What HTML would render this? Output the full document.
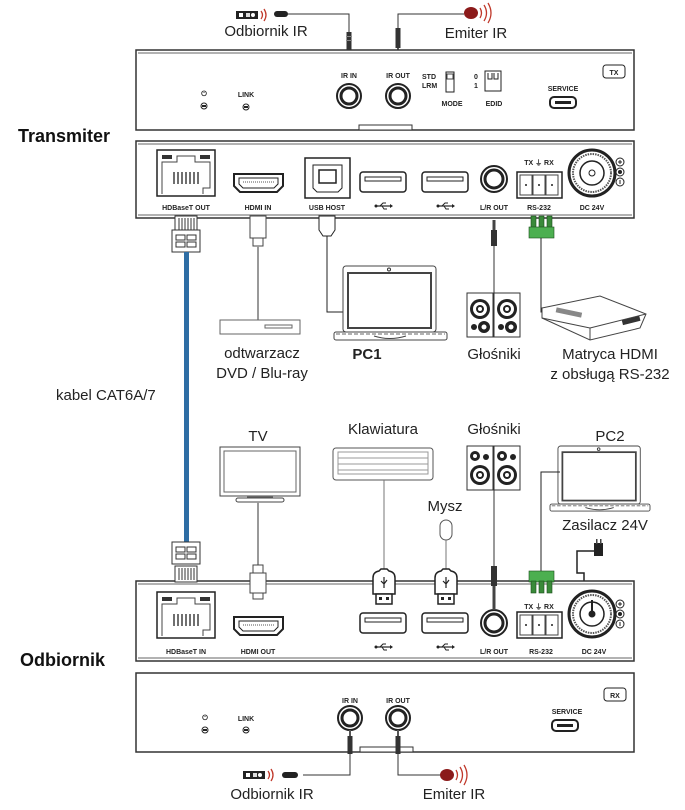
<!DOCTYPE html>
<html><head><meta charset="utf-8"><style>
html,body{margin:0;padding:0;background:#fff;}
svg{display:block;font-family:"Liberation Sans",Arial,sans-serif;}
.s{font-size:7px;font-weight:bold;fill:#222;}
.l{font-size:15px;fill:#222;}
</style></head><body>
<svg width="685" height="810" viewBox="0 0 685 810" xmlns="http://www.w3.org/2000/svg">
<defs>
<g id="usba"><rect x="0" y="0" width="46" height="20" rx="3" fill="#fff" stroke="#222" stroke-width="1.5"/><rect x="5" y="5" width="36" height="4" fill="#fff" stroke="#222"/></g>
<g id="usbsym"><line x1="0" y1="0" x2="14" y2="0" stroke="#222" stroke-width="1.2"/><polygon points="14,-2 17,0 14,2" fill="#222"/><circle cx="0" cy="0" r="1.5" fill="#222"/><path d="M4,0 L7,-3 L10,-3 M6,0 L8,3 L11,3" fill="none" stroke="#222"/></g>
<g id="rj"><rect x="0" y="0" width="58" height="46" fill="#fff" stroke="#222" stroke-width="1.5"/><path d="M5,44 V12 H20 V6 H38 V12 H53 V38 H46 V44" fill="none" stroke="#444"/><rect x="5" y="5" width="10" height="4" fill="#333"/><rect x="43" y="5" width="10" height="4" fill="#333"/><g stroke="#222" stroke-width="1.3"><line x1="17" y1="22" x2="17" y2="34"/><line x1="21" y1="22" x2="21" y2="34"/><line x1="25" y1="22" x2="25" y2="34"/><line x1="29" y1="22" x2="29" y2="34"/><line x1="33" y1="22" x2="33" y2="34"/><line x1="37" y1="22" x2="37" y2="34"/><line x1="41" y1="22" x2="41" y2="34"/></g></g>
<g id="hdmi"><path d="M2,2 H51 V14 L45,20 H8 L2,14 Z" fill="#fff" stroke="#222" stroke-width="2"/><path d="M7,6 H46 V12 L42,16 H11 L7,12 Z" fill="none" stroke="#222"/><line x1="11" y1="10" x2="42" y2="10" stroke="#555" stroke-dasharray="1,1"/></g>
<g id="jack"><circle r="13" fill="#fff" stroke="#222" stroke-width="2"/><circle r="9" fill="#fff" stroke="#222" stroke-width="3"/></g>
<g id="dc"><circle r="23" fill="#fff" stroke="#222" stroke-width="3"/><circle r="19" fill="none" stroke="#555" stroke-width="2" stroke-dasharray="1.5,1"/><circle r="12" fill="#fff" stroke="#222" stroke-width="1.5"/><circle r="3" fill="none" stroke="#222"/></g>
<g id="pm"><circle cx="0" cy="-10" r="4" fill="#fff" stroke="#222"/><path d="M-2,-10h4M0,-12v4" stroke="#222"/><circle cx="0" cy="0" r="4" fill="#fff" stroke="#222"/><circle cx="0" cy="0" r="2" fill="#222"/><circle cx="0" cy="10" r="4" fill="#fff" stroke="#222"/><path d="M0,8v4" stroke="#222"/></g>
<g id="rs"><rect x="0" y="0" width="45" height="26" fill="#fff" stroke="#222" stroke-width="1.5"/><rect x="3" y="3" width="12" height="20" fill="#fff" stroke="#444"/><rect x="16" y="3" width="12" height="20" fill="#fff" stroke="#444"/><rect x="29" y="3" width="12" height="20" fill="#fff" stroke="#444"/><circle cx="9" cy="13" r="1" fill="#222"/><circle cx="22" cy="13" r="1" fill="#222"/><circle cx="35" cy="13" r="1" fill="#222"/></g>
<g id="green"><rect x="0" y="0" width="5" height="12" fill="#3a8a3a" stroke="#1b4d1b" stroke-width=".6"/><rect x="8" y="0" width="5" height="12" fill="#3a8a3a" stroke="#1b4d1b" stroke-width=".6"/><rect x="16" y="0" width="5" height="12" fill="#3a8a3a" stroke="#1b4d1b" stroke-width=".6"/><rect x="-2" y="11" width="25" height="11" fill="#4caf50" stroke="#1b4d1b" stroke-width=".6"/></g>
<g id="irjack"><circle r="12" fill="#fff" stroke="#222" stroke-width="2"/><circle r="8" fill="#fff" stroke="#222" stroke-width="3"/></g>
<g id="plug"><rect x="-2.5" y="0" width="5" height="18" fill="#333"/><rect x="-1" y="18" width="2" height="10" fill="#555"/><rect x="-3" y="4" width="6" height="1" fill="#888"/><rect x="-3" y="8" width="6" height="1" fill="#888"/></g>
<g id="irrecv"><rect x="0" y="0" width="22" height="8" fill="#222"/><rect x="3" y="2" width="4" height="4" fill="#fff"/><rect x="10" y="2" width="4" height="4" fill="#ddd"/><circle cx="17" cy="4" r="2" fill="#fff"/><path d="M25,0 q3,4 0,8 M28,-2 q4,6 0,12" fill="none" stroke="#c0392b" stroke-width="1.3"/></g>
<g id="ethplug"><rect x="0" y="0" width="28" height="22" fill="#fff" stroke="#333"/><rect x="4" y="5" width="9" height="5" fill="none" stroke="#333"/><rect x="15" y="5" width="9" height="5" fill="none" stroke="#333"/><rect x="4" y="12" width="9" height="5" fill="none" stroke="#333"/><rect x="15" y="12" width="9" height="5" fill="none" stroke="#333"/></g>
<g id="rjpins"><rect x="0" y="0" width="22" height="16" fill="#fff" stroke="#333"/><g stroke="#333"><line x1="4" y1="2" x2="4" y2="14"/><line x1="7" y1="2" x2="7" y2="14"/><line x1="10" y1="2" x2="10" y2="14"/><line x1="13" y1="2" x2="13" y2="14"/><line x1="16" y1="2" x2="16" y2="14"/><line x1="19" y1="2" x2="19" y2="14"/></g></g>
<g id="usbplug"><path d="M-11,22 V6 Q-11,0 -5,-1 L-3,-3 L3,-3 L5,-1 Q11,0 11,6 V22 Z" fill="#fff" stroke="#222" stroke-width="1.5"/><rect x="-8" y="22" width="16" height="10" fill="#fff" stroke="#222" stroke-width="1.5"/><rect x="-5" y="25" width="3" height="3" fill="#222"/><rect x="2" y="25" width="3" height="3" fill="#222"/><path d="M0,5 V16 M-3,9 L0,12 L3,8" fill="none" stroke="#222" stroke-width="1.2"/></g>
<g id="spk"><rect x="0" y="0" width="26" height="44" fill="#fff" stroke="#333"/><circle cx="13" cy="16" r="10" fill="#222"/><circle cx="13" cy="16" r="7" fill="#fff"/><circle cx="13" cy="16" r="4" fill="#222"/><circle cx="13" cy="16" r="2" fill="#fff"/><circle cx="7" cy="34" r="3" fill="#222"/><circle cx="17" cy="34" r="6" fill="#222"/><circle cx="17" cy="34" r="2.5" fill="#fff"/></g>
<g id="laptop"><rect x="9" y="0" width="93" height="66" rx="3" fill="#fff" stroke="#444"/><rect x="14" y="7" width="83" height="55" fill="#fff" stroke="#444" stroke-width="2"/><circle cx="55" cy="3.5" r="1.5" fill="none" stroke="#333"/><rect x="0" y="66" width="113" height="8" rx="2" fill="#fff" stroke="#444"/><line x1="2" y1="68" x2="111" y2="68" stroke="#666" stroke-dasharray="4,2"/><path d="M40,70 Q56,75 72,70" fill="none" stroke="#444"/></g>
</defs>

<!-- Top IR cables TX -->
<use href="#irrecv" x="236" y="11"/>
<rect x="274" y="11" width="14" height="6" rx="3" fill="#222"/>
<path d="M288,14 H349 V35" fill="none" stroke="#333" stroke-width="1"/>
<use href="#plug" x="349" y="32"/>
<ellipse cx="471" cy="13" rx="7" ry="6" fill="#8b1a1a"/>
<path d="M480,8 q3,5 0,10 M484,5 q5,8 0,16 M488,3 q6,10 0,20" fill="none" stroke="#c0392b" stroke-width="1.3"/>
<path d="M464,14 H398 V33" fill="none" stroke="#333"/>
<rect x="395.5" y="28" width="5" height="20" fill="#333"/><rect x="397" y="48" width="2" height="8" fill="#555"/>
<text x="266" y="36" class="l" text-anchor="middle" font-size="14">Odbiornik IR</text>
<text x="476" y="38" class="l" text-anchor="middle" font-size="14">Emiter IR</text>

<!-- TX front panel -->
<rect x="136" y="50" width="498" height="80" fill="#fff" stroke="#333" stroke-width="1.5"/>
<line x1="138" y1="53" x2="632" y2="53" stroke="#666"/>
<rect x="359" y="125" width="53" height="5" fill="#fff" stroke="#333"/>
<text x="204" y="96" class="s" text-anchor="middle" font-size="9">⏻</text>
<circle cx="204" cy="106" r="3" fill="#fff" stroke="#222"/><rect x="202" y="105" width="4" height="2" fill="#222"/>
<text x="246" y="97" class="s" text-anchor="middle">LINK</text>
<circle cx="246" cy="107" r="3" fill="#fff" stroke="#222"/><rect x="244" y="106" width="4" height="2" fill="#222"/>
<text x="349" y="78" class="s" text-anchor="middle">IR IN</text>
<text x="398" y="78" class="s" text-anchor="middle">IR OUT</text>
<use href="#irjack" x="349" y="96"/><use href="#irjack" x="398" y="96"/>
<text x="422" y="79" class="s">STD</text><text x="422" y="88" class="s">LRM</text>
<rect x="446" y="72" width="8" height="20" fill="#fff" stroke="#222"/><rect x="447" y="74" width="6" height="5" fill="none" stroke="#444"/>
<text x="452" y="106" class="s" text-anchor="middle">MODE</text>
<text x="474" y="79" class="s">0</text><text x="474" y="88" class="s">1</text>
<rect x="485" y="71" width="16" height="20" fill="#fff" stroke="#222"/><path d="M488,73v6h4v-6M494,73v6h4v-6" fill="none" stroke="#222"/>
<text x="494" y="106" class="s" text-anchor="middle">EDID</text>
<text x="563" y="91" class="s" text-anchor="middle">SERVICE</text>
<rect x="550" y="97" width="26" height="11" rx="4" fill="#fff" stroke="#222" stroke-width="2"/><rect x="555" y="101" width="16" height="3" fill="#222"/>
<rect x="603" y="65" width="22" height="13" rx="3" fill="#fff" stroke="#222"/><text x="614" y="75" class="s" text-anchor="middle" font-size="8">TX</text>

<text x="18" y="142" font-size="18" font-weight="bold" fill="#111">Transmiter</text>

<!-- TX rear panel -->
<rect x="136" y="141" width="498" height="77" fill="#fff" stroke="#333" stroke-width="1.5"/>
<line x1="138" y1="144" x2="632" y2="144" stroke="#666"/><line x1="138" y1="215" x2="632" y2="215" stroke="#666"/>
<use href="#rj" x="157" y="150"/>
<use href="#hdmi" x="232" y="172"/>
<rect x="305" y="158" width="45" height="40" fill="#fff" stroke="#222" stroke-width="1.5"/><path d="M313,165 H342 V188 L338,192 H317 L313,188 Z" fill="#fff" stroke="#222"/><rect x="319" y="170" width="17" height="13" fill="#fff" stroke="#222" stroke-width="1.5"/>
<use href="#usba" x="360" y="172"/><use href="#usba" x="422" y="172"/>
<use href="#usbsym" x="376" y="206"/><use href="#usbsym" x="438" y="206"/>
<use href="#jack" x="494" y="179"/>
<text x="539" y="165" class="s" text-anchor="middle">TX ⏚ RX</text>
<use href="#rs" x="517" y="172"/>
<use href="#dc" x="592" y="173"/>
<use href="#pm" x="620" y="172"/>
<text x="186" y="210" class="s" text-anchor="middle">HDBaseT OUT</text>
<text x="258" y="210" class="s" text-anchor="middle">HDMI IN</text>
<text x="327" y="210" class="s" text-anchor="middle">USB HOST</text>
<text x="494" y="210" class="s" text-anchor="middle">L/R OUT</text>
<text x="539" y="210" class="s" text-anchor="middle">RS-232</text>
<text x="592" y="210" class="s" text-anchor="middle">DC 24V</text>

<!-- TX cables -->
<use href="#rjpins" x="175" y="216"/>
<use href="#ethplug" x="172" y="230"/>
<rect x="184" y="252" width="5" height="290" fill="#2e6da4"/>
<rect x="250" y="216" width="16" height="22" fill="#fff" stroke="#444"/><rect x="253" y="238" width="10" height="8" fill="#fff" stroke="#444"/>
<line x1="258" y1="246" x2="258" y2="320" stroke="#999" stroke-width="2"/>
<path d="M319,216 h16 v14 l-4,6 h-8 l-4,-6z" fill="#fff" stroke="#222"/>
<path d="M327,236 V312 H344" fill="none" stroke="#222"/>
<rect x="492.5" y="220" width="3" height="10" fill="#444"/><rect x="491" y="230" width="6" height="16" fill="#333"/>
<line x1="494" y1="246" x2="494" y2="305" stroke="#333"/>
<use href="#green" x="531" y="216"/>
<path d="M541,238 V312 H553" fill="none" stroke="#222"/>

<!-- TX devices -->
<rect x="220" y="320" width="80" height="14" fill="#fff" stroke="#666"/><rect x="265" y="325" width="27" height="3" fill="none" stroke="#666"/>
<use href="#laptop" x="334" y="266"/>
<use href="#spk" x="467" y="293"/><use href="#spk" x="494" y="293"/>
<polygon points="542,308 600,296 646,314 640,328 590,340 542,318" fill="#fff" stroke="#444"/>
<line x1="542" y1="318" x2="590" y2="328" stroke="#444"/><line x1="590" y1="328" x2="646" y2="314" stroke="#444"/><line x1="590" y1="328" x2="590" y2="340" stroke="#444"/>
<rect x="556" y="310" width="26" height="5" fill="#888" transform="rotate(12 569 312)"/>
<rect x="622" y="318" width="18" height="5" fill="#333" transform="rotate(-14 631 320)"/>

<text x="262" y="358" class="l" text-anchor="middle">odtwarzacz</text>
<text x="262" y="378" class="l" text-anchor="middle">DVD / Blu-ray</text>
<text x="367" y="359" class="l" text-anchor="middle" font-weight="bold" font-size="14">PC1</text>
<text x="494" y="359" class="l" text-anchor="middle">Głośniki</text>
<text x="610" y="359" class="l" text-anchor="middle">Matryca HDMI</text>
<text x="610" y="379" class="l" text-anchor="middle">z obsługą RS-232</text>
<text x="56" y="400" class="l">kabel CAT6A/7</text>

<!-- RX devices -->
<text x="258" y="441" class="l" text-anchor="middle">TV</text>
<rect x="220" y="447" width="80" height="49" fill="#fff" stroke="#444"/><rect x="224" y="451" width="72" height="41" fill="#fff" stroke="#666"/>
<rect x="247" y="496" width="26" height="3" fill="#666"/><rect x="236" y="498" width="48" height="4" rx="2" fill="#fff" stroke="#444"/>
<line x1="258" y1="502" x2="258" y2="565" stroke="#999" stroke-width="2"/>
<text x="383" y="434" class="l" text-anchor="middle">Klawiatura</text>
<rect x="333" y="448" width="100" height="32" rx="3" fill="#fff" stroke="#555"/>
<g stroke="#999" fill="none"><rect x="338" y="452" width="90" height="22"/><line x1="338" y1="458" x2="428" y2="458"/><line x1="338" y1="464" x2="428" y2="464"/><line x1="338" y1="470" x2="428" y2="470"/></g>
<line x1="384" y1="480" x2="384" y2="572" stroke="#777"/>
<text x="445" y="511" class="l" text-anchor="middle">Mysz</text>
<rect x="440" y="520" width="12" height="20" rx="6" fill="#fff" stroke="#555"/>
<line x1="446" y1="540" x2="446" y2="572" stroke="#777"/>
<text x="494" y="434" class="l" text-anchor="middle">Głośniki</text>
<g transform="translate(467,446)"><rect width="26" height="44" fill="#fff" stroke="#333"/><circle cx="8" cy="10" r="5" fill="#222"/><circle cx="8" cy="10" r="2" fill="#fff"/><circle cx="19" cy="11" r="3" fill="#222"/><circle cx="13" cy="29" r="10" fill="#222"/><circle cx="13" cy="29" r="7" fill="#fff"/><circle cx="13" cy="29" r="4" fill="#222"/><circle cx="13" cy="29" r="2" fill="#fff"/></g>
<g transform="translate(494,446)"><rect width="26" height="44" fill="#fff" stroke="#333"/><circle cx="8" cy="10" r="5" fill="#222"/><circle cx="8" cy="10" r="2" fill="#fff"/><circle cx="19" cy="11" r="3" fill="#222"/><circle cx="13" cy="29" r="10" fill="#222"/><circle cx="13" cy="29" r="7" fill="#fff"/><circle cx="13" cy="29" r="4" fill="#222"/><circle cx="13" cy="29" r="2" fill="#fff"/></g>
<line x1="494" y1="490" x2="494" y2="580" stroke="#333"/>
<text x="610" y="441" class="l" text-anchor="middle">PC2</text>
<g transform="translate(550,446) scale(0.885,0.88)"><use href="#laptop"/></g>
<text x="605" y="530" class="l" text-anchor="middle">Zasilacz 24V</text>
<rect x="594" y="543" width="9" height="13" fill="#222"/><rect x="596" y="539" width="1.5" height="5" fill="#444"/><rect x="600" y="539" width="1.5" height="5" fill="#444"/>
<path d="M596,551 H577 V573 H584 V600 L592,615" fill="none" stroke="#222" stroke-width="1.5"/>
<path d="M541,574 V472 H560" fill="none" stroke="#222"/>

<!-- RX rear panel -->
<use href="#ethplug" x="172" y="542"/>
<rect x="136" y="581" width="498" height="80" fill="#fff" stroke="#333" stroke-width="1.5"/>
<line x1="138" y1="584" x2="632" y2="584" stroke="#666"/><line x1="138" y1="658" x2="632" y2="658" stroke="#666"/>
<use href="#rjpins" x="175" y="566"/>
<use href="#rj" x="157" y="592"/>
<use href="#hdmi" x="232" y="615"/>
<use href="#usba" x="360" y="613"/><use href="#usba" x="422" y="613"/>
<use href="#usbsym" x="376" y="647"/><use href="#usbsym" x="438" y="647"/>
<use href="#jack" x="494" y="623"/>
<text x="539" y="609" class="s" text-anchor="middle">TX ⏚ RX</text>
<use href="#rs" x="517" y="612"/>
<use href="#dc" x="592" y="614"/>
<line x1="592" y1="600" x2="592" y2="614" stroke="#222" stroke-width="2"/><circle cx="592" cy="614" r="3" fill="#222"/>
<use href="#pm" x="620" y="614"/>
<text x="186" y="654" class="s" text-anchor="middle">HDBaseT IN</text>
<text x="258" y="654" class="s" text-anchor="middle">HDMI OUT</text>
<text x="494" y="654" class="s" text-anchor="middle">L/R OUT</text>
<text x="541" y="654" class="s" text-anchor="middle">RS-232</text>
<text x="594" y="654" class="s" text-anchor="middle">DC 24V</text>
<!-- RX connectors over panel -->
<rect x="253" y="565" width="10" height="8" fill="#fff" stroke="#444"/><rect x="250" y="573" width="16" height="20" fill="#fff" stroke="#444"/><rect x="253" y="593" width="10" height="6" fill="#fff" stroke="#444"/>
<use href="#usbplug" x="384" y="572"/>
<use href="#usbplug" x="446" y="572"/>
<rect x="491" y="566" width="6" height="20" fill="#333"/><rect x="492.5" y="586" width="3" height="24" fill="#444"/>
<rect x="529" y="571" width="25" height="11" fill="#4caf50" stroke="#1b4d1b" stroke-width=".6"/>
<rect x="531" y="581" width="5" height="12" fill="#3a8a3a" stroke="#1b4d1b" stroke-width=".6"/><rect x="539" y="581" width="5" height="12" fill="#3a8a3a" stroke="#1b4d1b" stroke-width=".6"/><rect x="547" y="581" width="5" height="12" fill="#3a8a3a" stroke="#1b4d1b" stroke-width=".6"/>
<text x="20" y="666" font-size="18" font-weight="bold" fill="#111">Odbiornik</text>

<!-- RX front panel -->
<rect x="136" y="673" width="498" height="79" fill="#fff" stroke="#333" stroke-width="1.5"/>
<rect x="360" y="747" width="53" height="5" fill="#fff" stroke="#333"/>
<text x="205" y="720" class="s" text-anchor="middle" font-size="9">⏻</text>
<circle cx="205" cy="730" r="3" fill="#fff" stroke="#222"/><rect x="203" y="729" width="4" height="2" fill="#222"/>
<text x="246" y="721" class="s" text-anchor="middle">LINK</text>
<circle cx="246" cy="730" r="3" fill="#fff" stroke="#222"/><rect x="244" y="729" width="4" height="2" fill="#222"/>
<text x="350" y="703" class="s" text-anchor="middle">IR IN</text>
<text x="398" y="703" class="s" text-anchor="middle">IR OUT</text>
<use href="#irjack" x="350" y="718"/><use href="#irjack" x="398" y="718"/>
<text x="567" y="714" class="s" text-anchor="middle">SERVICE</text>
<rect x="552" y="720" width="26" height="11" rx="4" fill="#fff" stroke="#222" stroke-width="2"/><rect x="557" y="724" width="16" height="3" fill="#222"/>
<rect x="604" y="688" width="22" height="13" rx="3" fill="#fff" stroke="#222"/><text x="615" y="698" class="s" text-anchor="middle" font-size="8">RX</text>
<rect x="349" y="730" width="2" height="6" fill="#555"/><rect x="347.5" y="736" width="5" height="18" fill="#333"/>
<rect x="397" y="730" width="2" height="6" fill="#555"/><rect x="395.5" y="736" width="5" height="18" fill="#333"/>
<path d="M350,754 V775 H303" fill="none" stroke="#333"/>
<rect x="282" y="772" width="16" height="6" rx="3" fill="#222"/>
<use href="#irrecv" x="243" y="771"/>
<path d="M398,754 V775 H440" fill="none" stroke="#333"/>
<ellipse cx="447" cy="775" rx="7" ry="6" fill="#8b1a1a"/>
<path d="M456,770 q3,5 0,10 M460,767 q5,8 0,16 M464,765 q6,10 0,20" fill="none" stroke="#c0392b" stroke-width="1.3"/>
<text x="272" y="799" class="l" text-anchor="middle" font-size="14">Odbiornik IR</text>
<text x="454" y="799" class="l" text-anchor="middle" font-size="14">Emiter IR</text>
</svg>
</body></html>
